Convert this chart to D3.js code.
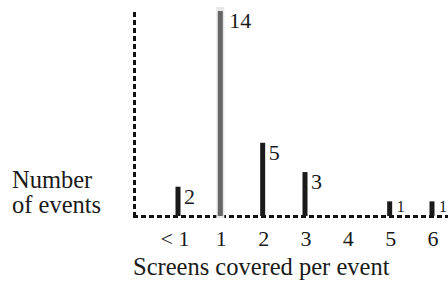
<!DOCTYPE html>
<html><head><meta charset="utf-8">
<script src="https://cdn.jsdelivr.net/npm/d3@7"></script>
<style>body{margin:0;background:#fff}</style>
</head><body>
<svg id="c" width="448" height="282"></svg>
<script>
const categories = ["< 1","1","2","3","4","5","6"];
const values = [2,14,5,3,0,1,1];
const labels = ["2","14","5","3","","1","1"];

const FONT = "'Liberation Serif', serif";
const svg = d3.select("#c");
const x = d3.scalePoint().domain(categories).range([178,432]);
const y = d3.scaleLinear().domain([0,14]).range([216,11]);

// axes (dashed)
svg.append("line").attr("x1",134.5).attr("x2",134.5).attr("y1",12).attr("y2",216)
  .attr("stroke","#111").attr("stroke-width",3).attr("stroke-dasharray","5,3");
svg.append("line").attr("x1",133).attr("x2",448).attr("y1",216.5).attr("y2",216.5)
  .attr("stroke","#111").attr("stroke-width",3).attr("stroke-dasharray","5,3");

const data = categories.map((c,i)=>({c,v:values[i],l:labels[i]}));
// faint halo for highlighted bar
svg.selectAll("rect.halo").data(data.filter(d=>d.c==="1")).enter().append("rect")
  .attr("x",d=>x(d.c)-4).attr("width",8)
  .attr("y",d=>y(d.v)-4).attr("height",d=>y(0)-y(d.v)+6)
  .attr("fill","#e6e6e6");
svg.selectAll("rect.bar").data(data.filter(d=>d.v>0)).enter().append("rect")
  .attr("class","bar")
  .attr("x",d=>x(d.c)-2.5)
  .attr("width",5)
  .attr("y",d=>y(d.v))
  .attr("height",d=>y(0)-y(d.v))
  .attr("fill",d=>d.c==="1"?"#666":"#1a1a1a");

svg.selectAll("text.val").data(data.filter(d=>d.v>0)).enter().append("text")
  .attr("class","val")
  .style("font-family",FONT).attr("fill","#1a1a1a")
  .attr("x",d=>x(d.c)+(d.c==="1"?9:d.v===1?7:6))
  .attr("y",d=>y(d.v)+(d.v===1?11:17))
  .attr("font-size",d=>d.v===1?16:22)
  .text(d=>d.l);

// x tick labels
svg.selectAll("text.tick").data(categories).enter().append("text")
  .attr("class","tick")
  .style("font-family",FONT).attr("fill","#1a1a1a")
  .attr("x",d=>d==="< 1"?x(d)-3:x(d)+1)
  .attr("y",246).attr("text-anchor","middle").attr("font-size",22)
  .text(d=>d);

svg.append("text").style("font-family",FONT).attr("fill","#1a1a1a").attr("x",133).attr("y",275).attr("font-size",24.5).text("Screens covered per event");
svg.append("text").style("font-family",FONT).attr("fill","#1a1a1a").attr("x",12).attr("y",188).attr("font-size",24.5).text("Number");
svg.append("text").style("font-family",FONT).attr("fill","#1a1a1a").attr("x",12).attr("y",213).attr("font-size",24.5).text("of events");
</script>
</body></html>
